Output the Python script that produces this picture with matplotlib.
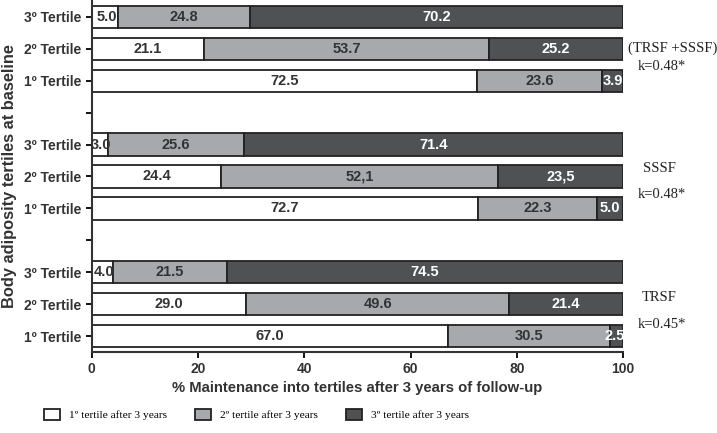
import numpy as np
import matplotlib
matplotlib.use("Agg")
import matplotlib.pyplot as plt
from matplotlib.patches import Patch

# rows from bottom to top: TRSF (1º,2º,3º), SSSF (1º,2º,3º), TRSF+SSSF (1º,2º,3º)
tercil1 = [67.0, 29.0, 4.0, 72.7, 24.4, 3.0, 72.5, 21.1, 5.0]
tercil2 = [30.5, 49.6, 21.5, 22.3, 52.1, 25.6, 23.6, 53.7, 24.8]
tercil3 = [2.5, 21.4, 74.5, 5.0, 23.5, 71.4, 3.9, 25.2, 70.2]
etiq2 = ["30.5", "49.6", "21.5", "22.3", "52,1", "25.6", "23.6", "53.7", "24.8"]
etiq3 = ["2.5", "21.4", "74.5", "5.0", "23,5", "71.4", "3.9", "25.2", "70.2"]
posiciones = [0, 1, 2, 4, 5, 6, 8, 9, 10]
nombres_filas = ["1º Tertile", "2º Tertile", "3º Tertile"] * 3
grupos = ["TRSF", "SSSF", "(TRSF +SSSF)"]
kappas = ["k=0.45*", "k=0.48*", "k=0.48*"]
leyenda = ["1º tertile after 3 years", "2º tertile after 3 years", "3º tertile after 3 years"]

c_blanco = "#ffffff"
c_gris = "#a8a9ad"
c_oscuro = "#505153"

plt.rcParams["font.family"] = ["Liberation Sans", "DejaVu Sans"]
fig = plt.figure(figsize=(7.17, 4.33), dpi=100)
ax = fig.add_axes([0.128, 0.187, 0.741, 0.811])

t1 = np.array(tercil1)
t2 = np.array(tercil2)
t3 = np.array(tercil3)
alto = 0.7
borde = "#222222"
ax.barh(posiciones, t1, height=alto, color=c_blanco, edgecolor=borde, linewidth=1.3)
ax.barh(posiciones, t2, left=t1, height=alto, color=c_gris, edgecolor=borde, linewidth=1.3)
ax.barh(posiciones, t3, left=t1 + t2, height=alto, color=c_oscuro, edgecolor=borde, linewidth=1.3)

# etiquetas dentro de las barras
for i, y in enumerate(posiciones):
    a, b, c = t1[i], t2[i], t3[i]
    x1 = a / 2 if a > 6 else a / 2 + 0.3
    ax.text(x1, y, f"{a:.1f}", ha="center", va="center", fontsize=10.5,
            fontweight="bold", color="#333333")
    ax.text(a + b / 2, y, etiq2[i], ha="center", va="center", fontsize=10.5,
            fontweight="bold", color="#333333")
    x3 = a + b + c / 2 if c > 3 else a + b + c / 2 - 0.3
    ax.text(x3, y, etiq3[i], ha="center", va="center", fontsize=10.5,
            fontweight="bold", color="white")

ax.set_xlim(0, 100)
ax.set_ylim(-0.5, 10.5)
ax.set_xticks([0, 20, 40, 60, 80, 100])
ax.set_yticks(posiciones + [3, 7])
ax.set_yticklabels(nombres_filas + ["", ""])
ax.tick_params(axis="both", labelsize=10, width=1.3, length=4)
for lab in ax.get_xticklabels() + ax.get_yticklabels():
    lab.set_fontweight("bold")
    lab.set_color("#333333")
for s in ["top", "right"]:
    ax.spines[s].set_visible(False)
for s in ["left", "bottom"]:
    ax.spines[s].set_linewidth(1.5)
    ax.spines[s].set_color("#333333")

ax.set_xlabel("% Maintenance into tertiles after 3 years of follow-up",
              fontsize=10.7, fontweight="bold", color="#333333", labelpad=3)
ax.set_ylabel("Body adiposity tertiles at baseline", fontsize=11.8,
              fontweight="bold", color="#333333", labelpad=5)

# textos de la derecha
serif = ["Liberation Serif", "DejaVu Serif"]
nombre_x = [103.6, 103.8, 101.0]
nombre_y = [1.2, 5.25, 9.0]
kappa_y = [0.35, 4.45, 8.45]
for i in range(3):
    ax.text(nombre_x[i], nombre_y[i], grupos[i], ha="left", va="center", fontsize=10.5,
            family=serif, clip_on=False, color="#222222")
    ax.text(102.8, kappa_y[i], kappas[i], ha="left", va="center", fontsize=10.5,
            family=serif, clip_on=False, color="#222222")

manijas = [Patch(facecolor=c, edgecolor=borde, linewidth=1.3)
           for c in [c_blanco, c_gris, c_oscuro]]
fig.legend(manijas, leyenda, loc="center left", bbox_to_anchor=(0.061, 0.042), ncol=3,
           frameon=False, prop={"family": "Liberation Serif", "size": 8.2},
           columnspacing=2.4, handlelength=1.45, handleheight=1.0, handletextpad=0.8,
           borderaxespad=0, borderpad=0)

fig.savefig("out.png", dpi=100)
